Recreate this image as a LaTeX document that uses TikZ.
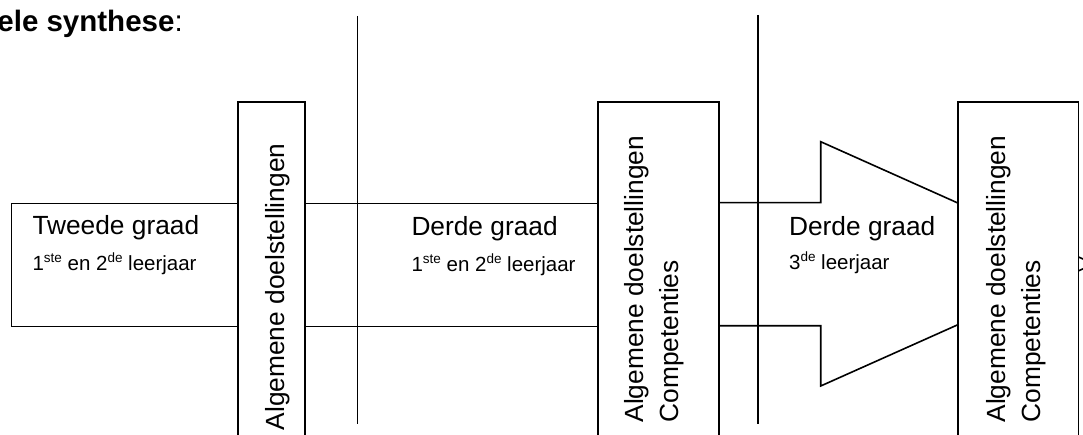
\documentclass[tikz,border=0pt]{standalone}
\usepackage{fontspec}
\setmainfont{Liberation Sans}
\usetikzlibrary{positioning}
\newcommand{\hoog}[1]{\raisebox{8pt}{\fontsize{13.5}{14}\selectfont #1}}

\begin{document}
\begin{tikzpicture}[x=1pt, y=-1pt, line width=1.6pt, draw=black, font=\fontsize{26.3}{32}\selectfont]
    \tikzstyle{vbox}=[draw=black, rectangle, fill=white, minimum height=360pt, inner sep=0pt, anchor=north west]
    \tikzstyle{band}=[draw=black, rectangle, fill=none, minimum height=123pt, inner sep=0pt, anchor=north west]
    \tikzstyle{gradetext}=[inner sep=0pt, anchor=base west]
    \tikzstyle{yeartext}=[inner sep=0pt, anchor=base west, font=\fontsize{20.5}{24}\selectfont]
    \tikzstyle{goaltext}=[inner sep=0pt, anchor=base west, rotate=90]

    \useasboundingbox (0,0) rectangle (1083,435);
    \clip (0,0) rectangle (1083,435);

    \node[inner sep=0pt, anchor=base east, font=\fontsize{29.5}{32}\selectfont] (title) at (183.5,31.7) {\textbf{ele synthese}:};

    % grades
    \node[band, minimum width=226.6pt] (g2) at (10.7,202.7) {};
    \node[band, minimum width=330pt] (g3) at (290,202.7) {};
    \coordinate (p1) at (700,202.7);
    \coordinate (p2) at (820.7,202.7);
    \coordinate (p3) at (820.7,141.7);
    \coordinate (tip) at (1094,263.9);
    \coordinate (p4) at (820.7,386);
    \coordinate (p5) at (820.7,325.7);
    \coordinate (p6) at (700,325.7);
    \draw (p1) -- (p2) -- (p3) -- (tip) -- (p4) -- (p5) -- (p6);

    % separators
    \coordinate (s1top) at (357.3,16);
    \coordinate (s1bot) at (357.3,424);
    \coordinate (s2top) at (757.7,15);
    \coordinate (s2bot) at (757.7,424);
    \draw (s1top) -- (s1bot);
    \draw (s2top) -- (s2bot);

    % goals
    \node[vbox, minimum width=66.7pt] (ad1) at (237.3,101) {};
    \node[vbox, minimum width=121pt] (ad2) at (597.3,101) {};
    \node[vbox, minimum width=120.4pt] (ad3) at (957.3,101) {};

    \node[goaltext] (ad1a) at (284,431) {Algemene doelstellingen};
    \node[goaltext] (ad2a) at (643,423.3) {Algemene doelstellingen};
    \node[goaltext] (ad2b) at (678,423.3) {Competenties};
    \node[goaltext] (ad3a) at (1005,423.3) {Algemene doelstellingen};
    \node[goaltext] (ad3b) at (1040,423.3) {Competenties};

    \node[gradetext] (t2) at (31.7,235) {Tweede graad};
    \node[yeartext] (t2y) at (31.7,270.7) {1\hoog{ste} en 2\hoog{de} leerjaar};
    \node[gradetext] (t3) at (410.7,236) {Derde graad};
    \node[yeartext] (t3y) at (410.7,271.7) {1\hoog{ste} en 2\hoog{de} leerjaar};
    \node[gradetext] (t4) at (788.3,236) {Derde graad};
    \node[yeartext] (t4y) at (788.3,270) {3\hoog{de} leerjaar};
\end{tikzpicture}
\end{document}
